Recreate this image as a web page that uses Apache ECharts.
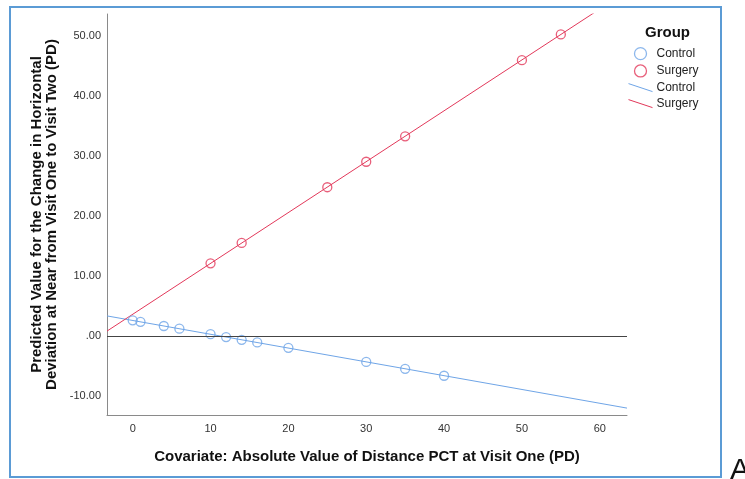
<!DOCTYPE html>
<html>
<head>
<meta charset="utf-8">
<script src="https://cdn.jsdelivr.net/npm/echarts@6/dist/echarts.min.js"></script>
<style>
  html, body { margin: 0; padding: 0; background: #fff; }
  #chart { width: 745px; height: 479px; }
</style>
</head>
<body>
<div id="chart"></div>
<script>
// Covariate values and predicted change, per group
const controlX = [0, 1, 4, 6, 10, 12, 14, 16, 20, 30, 35, 40];
const controlY = [2.6, 2.35, 1.65, 1.2, 0.28, -0.2, -0.65, -1.1, -2.0, -4.35, -5.5, -6.65];
const surgeryX = [10, 14, 25, 30, 35, 50, 55];
const surgeryY = [12.1, 15.5, 24.8, 29.05, 33.3, 46.0, 50.3];

// Fit-line end points for each group
const controlFitX = [-3.3, 63.5];
const controlFitY = [3.33, -12.05];
const surgeryFitX = [-3.3, 63.5];
const surgeryFitY = [0.8, 57.5];

// Axis ticks and range
const xTicks = [0, 10, 20, 30, 40, 50, 60];
const yTicks = [-10, 0, 10, 20, 30, 40, 50];
const xRange = [-3.3, 63.5];
const yRange = [-13.2, 53.7];

const controlColor = '#6fa5e7';
const surgeryColor = '#e2385a';
const fontFamily = '"Liberation Sans", Arial, sans-serif';

const zip = (xs, ys) => xs.map((x, i) => [x, ys[i]]);

const chart = echarts.init(document.getElementById('chart'), null, { renderer: 'canvas' });

chart.setOption({
  animation: false,
  backgroundColor: '#fff',
  textStyle: { fontFamily },
  grid: { left: 107, top: 14, width: 520, height: 401, containLabel: false },
  title: {
    text: 'Group',
    left: 640,
    top: 20,
    textStyle: { fontFamily, fontSize: 15, fontWeight: 'bold', color: '#111' }
  },
  legend: {
    left: 623,
    top: 42,
    orient: 'vertical',
    itemWidth: 24,
    itemHeight: 12,
    itemGap: 4,
    textStyle: { fontFamily, fontSize: 12, color: '#222', padding: [0, 0, 0, -1] },
    formatter: name => name.replace(' fit', ''),
    data: [
      { name: 'Control', icon: 'circle', itemStyle: { color: 'transparent', borderColor: controlColor, borderWidth: 1.3 } },
      { name: 'Surgery', icon: 'circle', itemStyle: { color: 'transparent', borderColor: surgeryColor, borderWidth: 1.3 } },
      { name: 'Control fit', icon: 'path://M0,0L24,8', itemStyle: { color: 'transparent', borderColor: controlColor, borderWidth: 1 } },
      { name: 'Surgery fit', icon: 'path://M0,0L24,8', itemStyle: { color: 'transparent', borderColor: surgeryColor, borderWidth: 1 } }
    ]
  },
  xAxis: {
    type: 'value',
    min: xRange[0],
    max: xRange[1],
    name: 'Covariate: Absolute Value of Distance PCT at Visit One (PD)',
    nameLocation: 'middle',
    nameGap: 34,
    nameTextStyle: { fontFamily, fontSize: 15, fontWeight: 'bold', color: '#111' },
    axisLine: { show: true, onZero: false, lineStyle: { color: '#8a8a8a', width: 1 } },
    axisTick: { show: false },
    splitLine: { show: false },
    axisLabel: {
      customValues: xTicks,
      margin: 8,
      fontFamily, fontSize: 11, color: '#333',
      formatter: v => String(v)
    }
  },
  yAxis: {
    type: 'value',
    min: yRange[0],
    max: yRange[1],
    name: 'Predicted Value for the Change in Horizontal\nDeviation at Near from Visit One to Visit Two (PD)',
    nameLocation: 'middle',
    nameRotate: 90,
    nameGap: 48,
    nameTextStyle: { fontFamily, fontSize: 15, fontWeight: 'bold', color: '#111', lineHeight: 15 },
    axisLine: { show: true, onZero: false, lineStyle: { color: '#8a8a8a', width: 1 } },
    axisTick: { show: false },
    splitLine: { show: false },
    axisLabel: {
      customValues: yTicks,
      margin: 6,
      fontFamily, fontSize: 11, color: '#333',
      formatter: v => (v === 0 ? '.00' : v.toFixed(2))
    }
  },
  series: [
    {
      name: 'Control fit',
      type: 'line',
      data: zip(controlFitX, controlFitY),
      showSymbol: false,
      clip: true,
      lineStyle: { color: controlColor, width: 1 },
      itemStyle: { color: controlColor },
      silent: true,
      z: 2,
      markLine: {
        silent: true,
        symbol: 'none',
        label: { show: false },
        lineStyle: { color: '#444', width: 1, type: 'solid' },
        data: [{ yAxis: 0 }]
      }
    },
    {
      name: 'Surgery fit',
      type: 'line',
      data: zip(surgeryFitX, surgeryFitY),
      showSymbol: false,
      clip: true,
      lineStyle: { color: surgeryColor, width: 1 },
      itemStyle: { color: surgeryColor },
      silent: true,
      z: 2
    },
    {
      name: 'Control',
      type: 'scatter',
      data: zip(controlX, controlY),
      symbol: 'circle',
      symbolSize: 9,
      itemStyle: { color: 'transparent', borderColor: controlColor, borderWidth: 1.3 },
      z: 3
    },
    {
      name: 'Surgery',
      type: 'scatter',
      data: zip(surgeryX, surgeryY),
      symbol: 'circle',
      symbolSize: 9,
      itemStyle: { color: 'transparent', borderColor: surgeryColor, borderWidth: 1.3 },
      z: 3
    }
  ],
  graphic: [
    {
      type: 'rect',
      shape: { x: 10, y: 7, width: 711, height: 470 },
      style: { fill: 'none', stroke: '#5b9bd5', lineWidth: 2 },
      silent: true
    },
    {
      type: 'text',
      x: 730,
      y: 456,
      style: { text: 'A', fontFamily, fontSize: 30, fill: '#111' },
      silent: true
    }
  ]
});
</script>
</body>
</html>
